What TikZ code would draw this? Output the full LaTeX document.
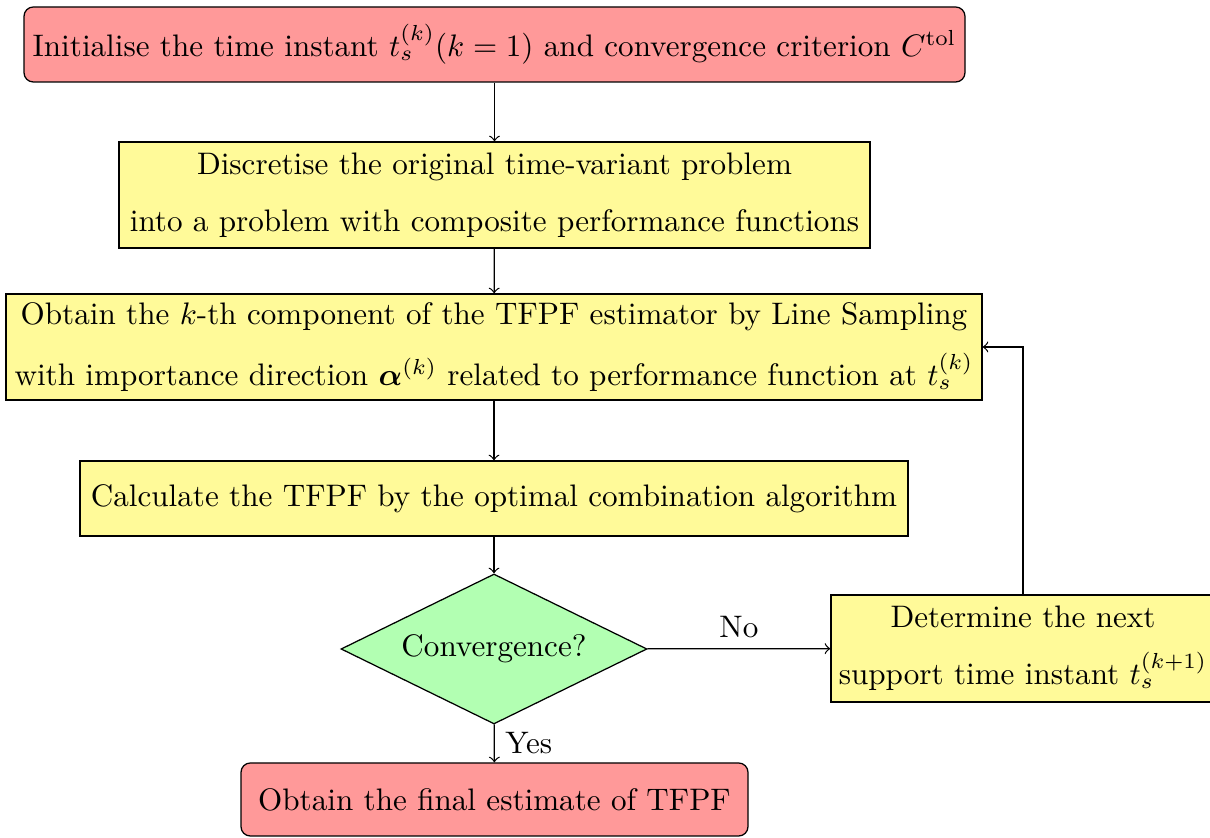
\documentclass[tikz,border=0pt]{standalone}
\usepackage{amsmath,bm}
\usetikzlibrary{shapes.geometric}
\begin{document}
\def\u{0.3214pt}
\begin{tikzpicture}[x=0.3214pt,y=-0.3214pt,
  startstop/.style={draw,rounded corners=3pt,fill=red!40,inner sep=0pt,align=center},
  process/.style={draw,fill=yellow!40,inner sep=0pt,align=center},
  decision/.style={draw,diamond,aspect=2.04,fill=green!30,inner sep=0pt,align=center},
  conn/.style={->}]
\useasboundingbox (0,0) rectangle (1210,838);
\node[startstop,minimum width=941*\u,minimum height=75*\u] (b1) at (494.5,44.5)
  {Initialise the time instant $t_s^{(k)}(k=1)$ and convergence criterion $C^{\mathrm{tol}}$};
\node[process,minimum width=751*\u,minimum height=106*\u] (b2) at (494.5,195)
  {Discretise the original time-variant problem\\[6.3pt] into a problem with composite performance functions};
\node[process,minimum width=976*\u,minimum height=106*\u] (b3) at (494,347)
  {Obtain the $k$-th component of the TFPF estimator by Line Sampling\\[6.3pt] with importance direction $\bm{\alpha}^{(k)}$ related to performance function at $t_s^{(k)}$};
\node[process,minimum width=828*\u,minimum height=75*\u] (b4) at (494,498.5)
  {Calculate the TFPF by the optimal combination algorithm};
\node[decision,minimum width=306*\u,minimum height=150*\u] (d) at (494,649)
  {Convergence?};
\node[process,minimum width=384*\u,minimum height=107*\u] (b6) at (1023,648.5)
  {Determine the next\\[6.3pt] support time instant $t_s^{(k+1)}$};
\node[startstop,minimum width=507*\u,minimum height=73*\u] (b7) at (494.5,799.5)
  {Obtain the final estimate of TFPF};
\draw[conn] (b1) -- (b2);
\draw[conn] (b2) -- (b3);
\draw[conn] (b3) -- (b4);
\draw[conn] (b4) -- (d);
\draw[conn] (d) -- node[right]{Yes} (b7);
\draw[conn] (d) -- node[above]{No} (b6);
\draw[conn] (b6.north) |- (b3.east);
\end{tikzpicture}
\end{document}
